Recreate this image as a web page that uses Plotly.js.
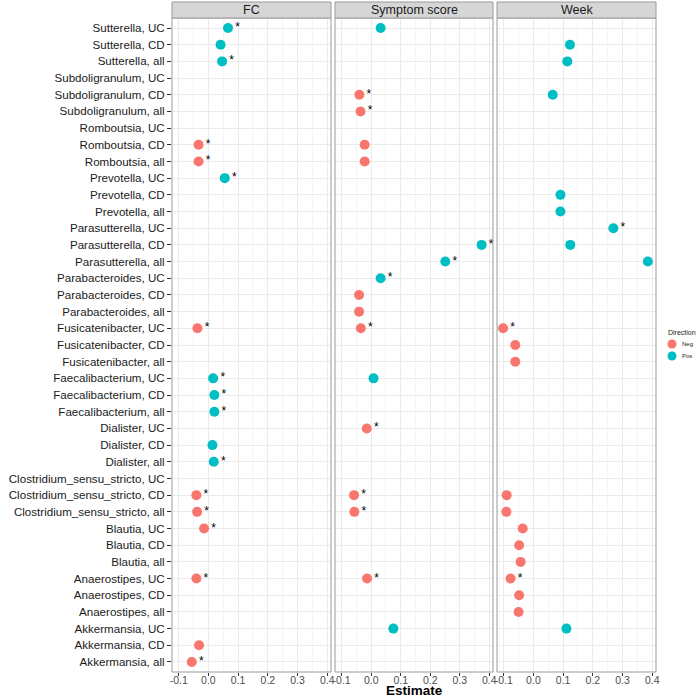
<!DOCTYPE html>
<html><head><meta charset="utf-8">
<script src="https://cdn.plot.ly/plotly-3.0.1.min.js"></script>
<style>body{margin:0;background:#fff}#chart{width:700px;height:697px}</style>
</head><body><div id="chart"></div>
<script>
// ---- data (top row first) ----
const categories = [
  "Sutterella, UC","Sutterella, CD","Sutterella, all",
  "Subdoligranulum, UC","Subdoligranulum, CD","Subdoligranulum, all",
  "Romboutsia, UC","Romboutsia, CD","Romboutsia, all",
  "Prevotella, UC","Prevotella, CD","Prevotella, all",
  "Parasutterella, UC","Parasutterella, CD","Parasutterella, all",
  "Parabacteroides, UC","Parabacteroides, CD","Parabacteroides, all",
  "Fusicatenibacter, UC","Fusicatenibacter, CD","Fusicatenibacter, all",
  "Faecalibacterium, UC","Faecalibacterium, CD","Faecalibacterium, all",
  "Dialister, UC","Dialister, CD","Dialister, all",
  "Clostridium_sensu_stricto, UC","Clostridium_sensu_stricto, CD","Clostridium_sensu_stricto, all",
  "Blautia, UC","Blautia, CD","Blautia, all",
  "Anaerostipes, UC","Anaerostipes, CD","Anaerostipes, all",
  "Akkermansia, UC","Akkermansia, CD","Akkermansia, all"
];
const facets = ["FC","Symptom score","Week"];
const fcEstimate = [
  0.066,0.041,0.046, null,null,null, null,-0.033,-0.033,
  0.055,null,null, null,null,null, null,null,null,
  -0.037,null,null, 0.016,0.020,0.020, null,0.0135,0.018,
  null,-0.0405,-0.038, -0.0146,null,null, -0.0405,null,null,
  null,-0.0315,-0.056
];
const fcSignificant = [
  1,0,1, 0,0,0, 0,1,1,
  1,0,0, 0,0,0, 0,0,0,
  1,0,0, 1,1,1, 0,0,1,
  0,1,1, 1,0,0, 1,0,0,
  0,0,1
];
const symptomEstimate = [
  0.032,null,null, null,-0.040,-0.036, null,-0.022,-0.022,
  null,null,null, null,0.374,0.251, 0.032,-0.041,-0.041,
  -0.035,null,null, 0.008,null,null, -0.015,null,null,
  null,-0.058,-0.057, null,null,null, -0.014,null,null,
  0.075,null,null
];
const symptomSignificant = [
  0,0,0, 0,1,1, 0,0,0,
  0,0,0, 0,1,1, 1,0,0,
  1,0,0, 0,0,0, 1,0,0,
  0,1,1, 0,0,0, 1,0,0,
  0,0,0
];
const weekEstimate = [
  null,0.123,0.114, null,0.065,null, null,null,null,
  null,0.091,0.091, 0.269,0.124,0.385, null,null,null,
  -0.102,-0.061,-0.061, null,null,null, null,null,null,
  null,-0.090,-0.091, -0.036,-0.048,-0.043, -0.077,-0.048,-0.050,
  0.111,null,null
];
const weekSignificant = [
  0,0,0, 0,0,0, 0,0,0,
  0,0,0, 1,0,0, 0,0,0,
  1,0,0, 0,0,0, 0,0,0,
  0,0,0, 0,0,0, 1,0,0,
  0,0,0
];
const tickValues = [-0.1,0,0.1,0.2,0.3,0.4];
const legendLevels = ["Neg","Pos"];

// ---- styling ----
const NEG = "#F8766D", POS = "#00BFC4";
const estimates = [fcEstimate, symptomEstimate, weekEstimate];
const sigs = [fcSignificant, symptomSignificant, weekSignificant];
const xDomains = [[0,0.3285],[0.3368,0.6632],[0.6715,1]];
const yTop = 654/670;
const xRange = [-0.1225,0.4125];
const fontFam = "'Liberation Sans', Arial, sans-serif";

const traces = [];
estimates.forEach((est,k)=>{
  const xs=[], ys=[], cols=[], txt=[];
  est.forEach((v,i)=>{
    if(v===null) return;
    xs.push(v); ys.push(categories[i]);
    cols.push(v<0?NEG:POS);
    txt.push(sigs[k][i]?"*":"");
  });
  traces.push({
    type:"scatter", mode:"markers+text",
    x:xs, y:ys, text:txt, textposition:"middle right",
    textfont:{family:fontFam, size:12, color:"#000"},
    marker:{size:10, color:cols, line:{width:0}},
    xaxis: k===0?"x":"x"+(k+1), yaxis: k===0?"y":"y"+(k+1),
    showlegend:false, hoverinfo:"x+y", cliponaxis:false
  });
});

const layout = {
  width:700, height:697,
  margin:{l:172, r:44, t:2, b:25},
  paper_bgcolor:"#fff", plot_bgcolor:"#fff",
  showlegend:false,
  font:{family:fontFam, color:"#333"},
  shapes:[], annotations:[]
};
const n = categories.length;
for(let k=0;k<3;k++){
  const xn = k===0?"xaxis":"xaxis"+(k+1);
  const yn = k===0?"yaxis":"yaxis"+(k+1);
  const yref = k===0?"y":"y"+(k+1);
  const xref = k===0?"x":"x"+(k+1);
  layout[xn] = {
    domain:xDomains[k], anchor:yref, range:xRange, type:"linear",
    tickvals:tickValues, ticktext:tickValues.map(v=>v.toFixed(1)),
    ticks:"outside", ticklen:3, tickcolor:"#333", tickwidth:1,
    ticklabelstandoff:-5,
    tickfont:{family:fontFam, size:10.5, color:"#4D4D4D"},
    showgrid:true, gridcolor:"#EBEBEB", gridwidth:1,
    minor:{dtick:0.05, tick0:0.05, showgrid:true, gridcolor:"#F4F4F4", gridwidth:1},
    zeroline:false, showline:false, fixedrange:true
  };
  layout[yn] = {
    domain:[0,yTop], anchor:xref, type:"category",
    categoryorder:"array", categoryarray:categories,
    range:[n-1+0.6,-0.6],
    showticklabels:k===0, ticks:k===0?"outside":"", ticklen:4, tickcolor:"#333",
    tickfont:{family:fontFam, size:11.6, color:"#1A1A1A"},
    showgrid:true, gridcolor:"#EBEBEB", gridwidth:1,
    zeroline:false, showline:false, fixedrange:true
  };
  if(k>0) layout[yn].matches = "y";
  layout.shapes.push({type:"rect", xref:xref+" domain", yref:yref+" domain",
    x0:0,x1:1,y0:0,y1:1, line:{color:"#9A9A9A", width:1}, fillcolor:"rgba(0,0,0,0)", layer:"above"});
  layout.shapes.push({type:"rect", xref:"paper", yref:"paper",
    x0:xDomains[k][0], x1:xDomains[k][1], y0:yTop, y1:1,
    line:{color:"#9A9A9A", width:1}, fillcolor:"#D6D6D6"});
  layout.annotations.push({text:facets[k], xref:"paper", yref:"paper",
    x:(xDomains[k][0]+xDomains[k][1])/2, y:(yTop+1)/2, xanchor:"center", yanchor:"middle",
    showarrow:false, font:{family:fontFam, size:12.5, color:"#1A1A1A"}});
}
layout.annotations.push({text:"<b>Estimate</b>", xref:"paper", yref:"paper",
  x:(xDomains[1][0]+xDomains[1][1])/2, y:-18.5/670, xanchor:"center", yanchor:"middle",
  showarrow:false, font:{family:fontFam, size:13.5, color:"#000"}});
const pxX = p => (p-172)/484, pxY = p => (672-p)/670;
layout.annotations.push({text:"Direction", xref:"paper", yref:"paper", x:pxX(666), y:pxY(332),
  xanchor:"left", yanchor:"middle", showarrow:false, font:{family:fontFam, size:7, color:"#1A1A1A"}});
const legendColors = [NEG, POS];
legendLevels.forEach((lv,j)=>{
  const cy = 344 + j*12;
  layout.shapes.push({type:"circle", xref:"paper", yref:"paper", xsizemode:"pixel", ysizemode:"pixel",
    xanchor:pxX(672), yanchor:pxY(cy), x0:-4.5, x1:4.5, y0:-4.5, y1:4.5,
    fillcolor:legendColors[j], line:{width:0}});
  layout.annotations.push({text:lv, xref:"paper", yref:"paper", x:pxX(680), y:pxY(cy),
    xanchor:"left", yanchor:"middle", showarrow:false, font:{family:fontFam, size:6, color:"#1A1A1A"}});
});

Plotly.newPlot("chart", traces, layout, {displayModeBar:false, staticPlot:true});
</script>
</body></html>
